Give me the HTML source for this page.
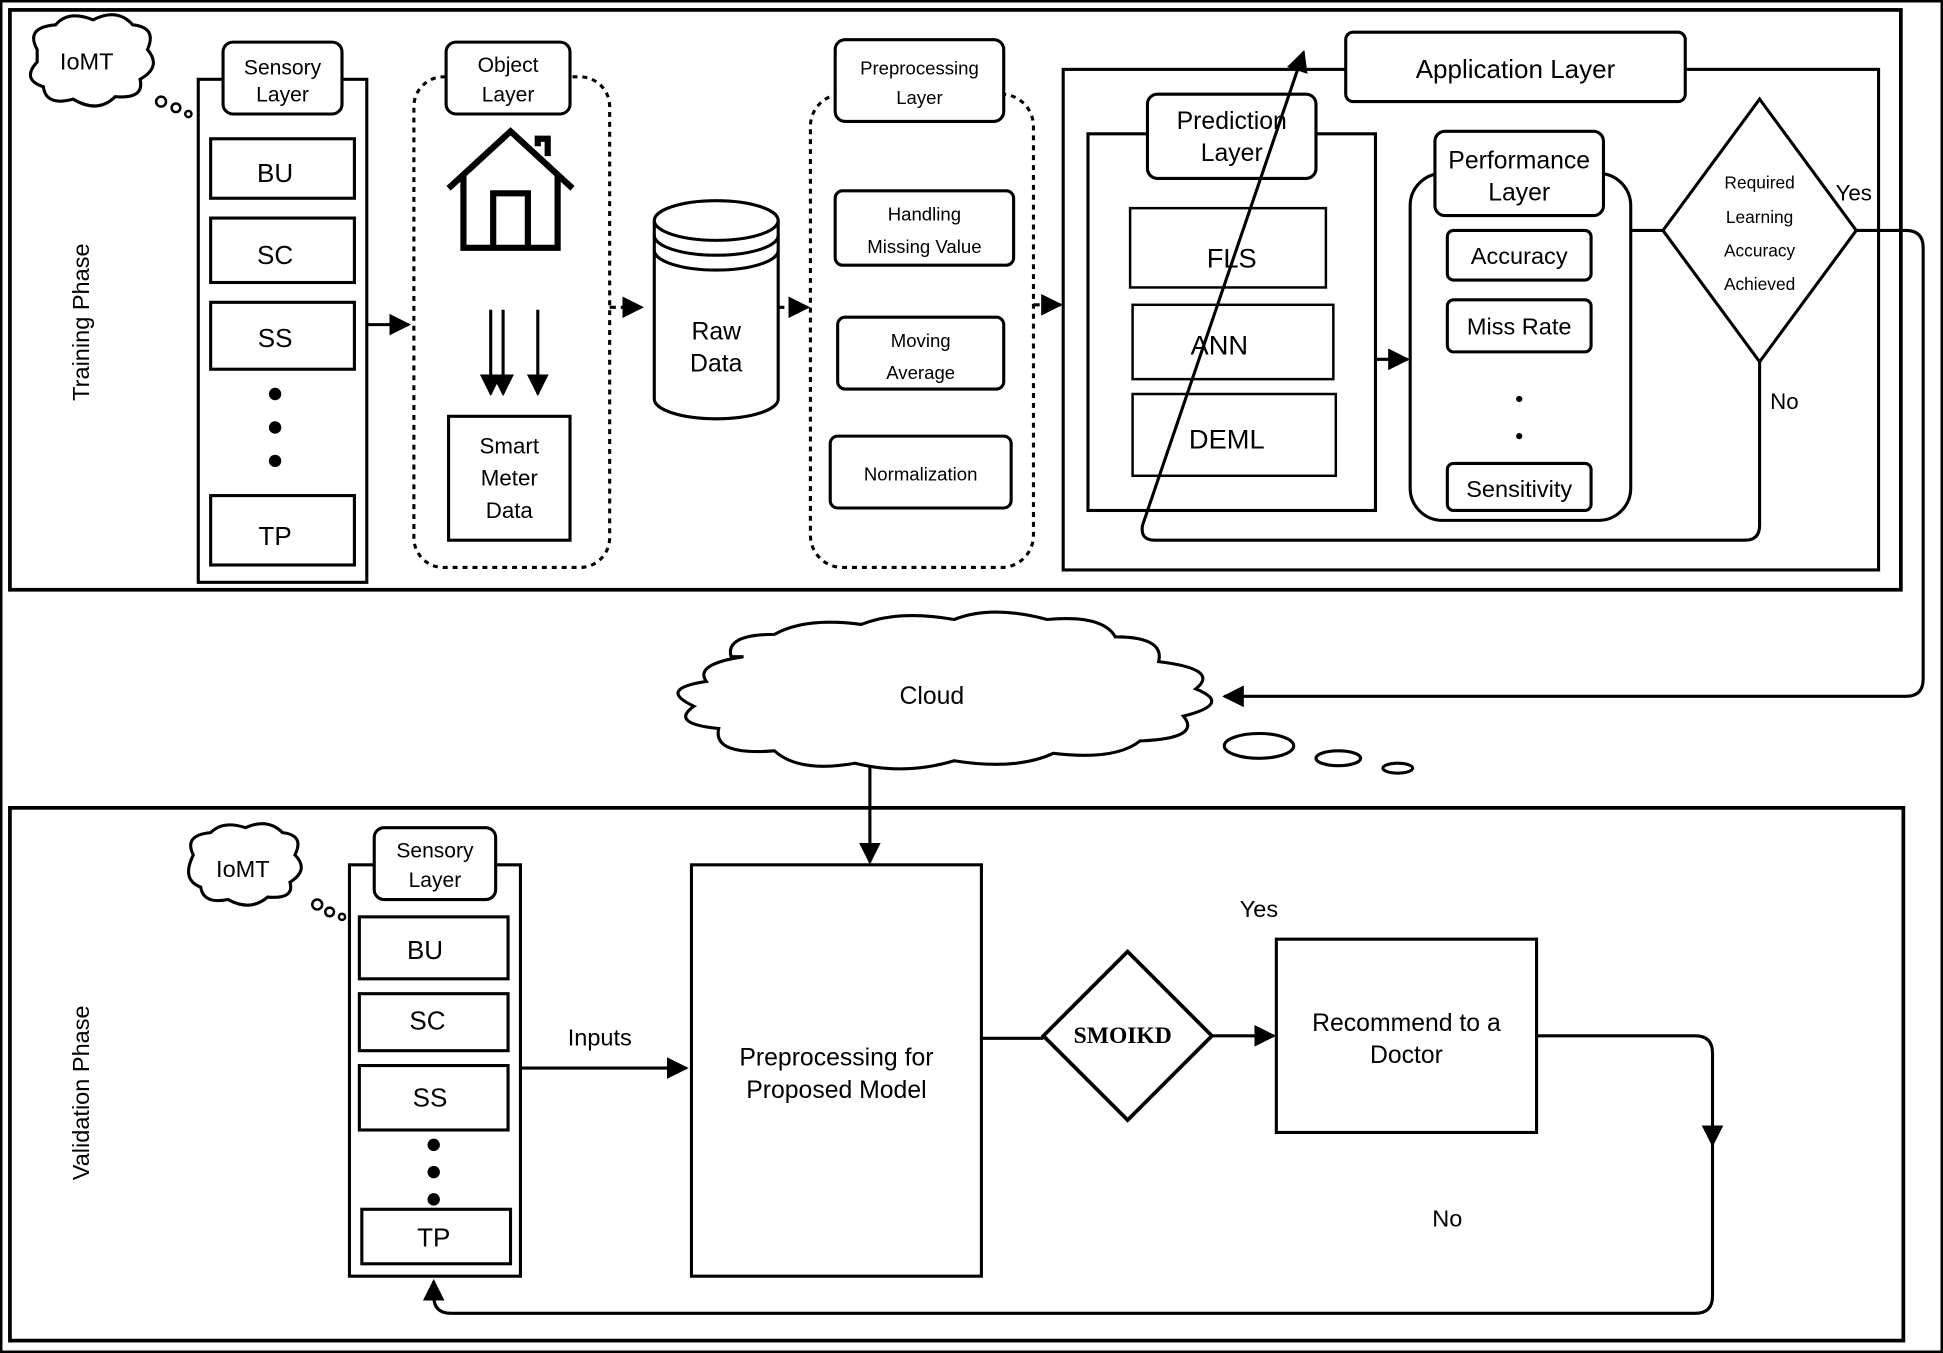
<!DOCTYPE html>
<html><head><meta charset="utf-8"><style>html,body{margin:0;padding:0;background:#fff}svg{display:block}</style></head>
<body>
<svg width="1943" height="1353" viewBox="0 0 1568 1092" preserveAspectRatio="none" xmlns="http://www.w3.org/2000/svg" font-family="Liberation Sans, sans-serif" fill="none" stroke="#000">
<defs>
<marker id="a" viewBox="0 0 10 10" refX="9" refY="5" markerWidth="7" markerHeight="7" orient="auto"><path d="M0,0L10,5L0,10z" fill="#000" stroke="none"/></marker>
</defs>
<rect x="1" y="1" width="1566" height="1090" stroke-width="2"/>
<rect x="8" y="8" width="1526" height="468" stroke-width="3"/>
<rect x="8" y="652" width="1528" height="430" stroke-width="3"/>
<g fill="#000" stroke="none" font-size="19">
<text transform="translate(72,260) rotate(-90)" text-anchor="middle">Training Phase</text>
<text transform="translate(72,882) rotate(-90)" text-anchor="middle">Validation Phase</text>
</g>
<!-- IoMT cloud top -->
<path d="M30,40 q-10,-18 15,-20 q10,-12 30,-4 q20,-10 32,4 q20,2 12,20 q12,14 -6,24 q4,16 -20,14 q-14,14 -34,2 q-22,6 -24,-10 q-18,-6 -5,-20z" stroke-width="2.5"/>
<text x="70" y="56" font-size="19" fill="#000" stroke="none" text-anchor="middle">IoMT</text>
<circle cx="130" cy="82" r="4" stroke-width="2"/><circle cx="142" cy="87" r="3.5" stroke-width="2"/><circle cx="152" cy="92" r="2.5" stroke-width="2"/>
<!-- sensory top -->
<rect x="160" y="64" width="136" height="406" stroke-width="2.5"/>
<rect x="180" y="34" width="96" height="58" rx="8" fill="#fff" stroke-width="2.5"/>
<g stroke-width="2.5"><rect x="170" y="112" width="116" height="48"/><rect x="170" y="176" width="116" height="52"/><rect x="170" y="244" width="116" height="54"/><rect x="170" y="400" width="116" height="56"/></g>
<g fill="#000" stroke="none"><circle cx="222" cy="318" r="5"/><circle cx="222" cy="345" r="5"/><circle cx="222" cy="372" r="5"/></g>
<g fill="#000" stroke="none" font-size="21" text-anchor="middle">
<text x="228" y="60" font-size="17">Sensory</text><text x="228" y="82" font-size="17">Layer</text>
<text x="222" y="147">BU</text><text x="222" y="213">SC</text><text x="222" y="280">SS</text><text x="222" y="440">TP</text>
</g>
<line x1="296" y1="262" x2="330" y2="262" stroke-width="2.5" marker-end="url(#a)"/>
<!-- object layer -->
<rect x="334" y="62" width="158" height="396" rx="24" stroke-width="2.5" stroke-dasharray="4,4"/>
<rect x="360" y="34" width="100" height="58" rx="8" fill="#fff" stroke-width="2.5"/>
<text x="410" y="58" font-size="17" fill="#000" stroke="none" text-anchor="middle">Object</text>
<text x="410" y="82" font-size="17" fill="#000" stroke="none" text-anchor="middle">Layer</text>
<path d="M362,152 L412,106 L462,152 M374,142 V200 H450 V142 M398,200 V156 H426 V200 M434,118 V112 H442 V126" stroke-width="5"/>
<g stroke-width="2.5"><line x1="396" y1="250" x2="396" y2="318" marker-end="url(#a)"/><line x1="406" y1="250" x2="406" y2="318" marker-end="url(#a)"/><line x1="434" y1="250" x2="434" y2="318" marker-end="url(#a)"/></g>
<rect x="362" y="336" width="98" height="100" stroke-width="2.5"/>
<g fill="#000" stroke="none" font-size="18" text-anchor="middle"><text x="411" y="366">Smart</text><text x="411" y="392">Meter</text><text x="411" y="418">Data</text></g>
<line x1="492" y1="248" x2="518" y2="248" stroke-width="2.5" stroke-dasharray="5,4" marker-end="url(#a)"/>
<!-- raw data -->
<path d="M528,178 V322 A50,16 0 0 0 628,322 V178" stroke-width="2.5"/>
<ellipse cx="578" cy="178" rx="50" ry="16" stroke-width="2.5"/>
<path d="M528,190 A50,16 0 0 0 628,190 M528,202 A50,16 0 0 0 628,202" stroke-width="2.5"/>
<text x="578" y="274" font-size="20" fill="#000" stroke="none" text-anchor="middle">Raw</text>
<text x="578" y="300" font-size="20" fill="#000" stroke="none" text-anchor="middle">Data</text>
<line x1="628" y1="248" x2="652" y2="248" stroke-width="2.5" stroke-dasharray="5,4" marker-end="url(#a)"/>
<!-- preprocessing -->
<rect x="654" y="76" width="180" height="382" rx="26" stroke-width="2.5" stroke-dasharray="4,4"/>
<rect x="674" y="32" width="136" height="66" rx="8" fill="#fff" stroke-width="2.5"/>
<g stroke-width="2.5"><rect x="674" y="154" width="144" height="60" rx="6"/><rect x="676" y="256" width="134" height="58" rx="6"/><rect x="670" y="352" width="146" height="58" rx="6"/></g>
<g fill="#000" stroke="none" font-size="15" text-anchor="middle">
<text x="742" y="60">Preprocessing</text><text x="742" y="84">Layer</text>
<text x="746" y="178">Handling</text><text x="746" y="204">Missing Value</text>
<text x="743" y="280">Moving</text><text x="743" y="306">Average</text>
<text x="743" y="388">Normalization</text>
</g>
<line x1="834" y1="246" x2="856" y2="246" stroke-width="2.5" stroke-dasharray="5,4" marker-end="url(#a)"/>
<!-- application -->
<rect x="858" y="56" width="658" height="404" stroke-width="2.5"/>
<rect x="1086" y="26" width="274" height="56" rx="6" fill="#fff" stroke-width="2.5"/>
<text x="1223" y="63" font-size="21" fill="#000" stroke="none" text-anchor="middle">Application Layer</text>
<rect x="878" y="108" width="232" height="304" stroke-width="2.5"/>
<rect x="926" y="76" width="136" height="68" rx="8" fill="#fff" stroke-width="2.5"/>
<g fill="#000" stroke="none" font-size="20" text-anchor="middle"><text x="994" y="104">Prediction</text><text x="994" y="130">Layer</text></g>
<g stroke-width="2"><rect x="912" y="168" width="158" height="64"/><rect x="914" y="246" width="162" height="60"/><rect x="914" y="318" width="164" height="66"/></g>
<g fill="#000" stroke="none" font-size="22" text-anchor="middle"><text x="994" y="216">FLS</text><text x="984" y="286">ANN</text><text x="990" y="362">DEML</text></g>
<line x1="1110" y1="290" x2="1136" y2="290" stroke-width="2.5" marker-end="url(#a)"/>
<rect x="1138" y="140" width="178" height="280" rx="26" stroke-width="2.5"/>
<rect x="1158" y="106" width="136" height="68" rx="8" fill="#fff" stroke-width="2.5"/>
<g fill="#000" stroke="none" font-size="20" text-anchor="middle"><text x="1226" y="136">Performance</text><text x="1226" y="162">Layer</text></g>
<g stroke-width="2.5"><rect x="1168" y="186" width="116" height="40" rx="5"/><rect x="1168" y="242" width="116" height="42" rx="5"/><rect x="1168" y="374" width="116" height="38" rx="5"/></g>
<g fill="#000" stroke="none" font-size="19" text-anchor="middle"><text x="1226" y="213">Accuracy</text><text x="1226" y="270">Miss Rate</text><text x="1226" y="401">Sensitivity</text></g>
<g fill="#000" stroke="none"><circle cx="1226" cy="322" r="2.5"/><circle cx="1226" cy="352" r="2.5"/></g>
<line x1="1316" y1="186" x2="1342" y2="186" stroke-width="2.5"/>
<polygon points="1420,80 1498,186 1420,292 1342,186" stroke-width="2.5"/>
<g fill="#000" stroke="none" font-size="14" text-anchor="middle"><text x="1420" y="152">Required</text><text x="1420" y="180">Learning</text><text x="1420" y="207">Accuracy</text><text x="1420" y="234">Achieved</text></g>
<text x="1496" y="162" font-size="18" fill="#000" stroke="none" text-anchor="middle">Yes</text>
<text x="1440" y="330" font-size="18" fill="#000" stroke="none" text-anchor="middle">No</text>
<path d="M1498,186 H1538 Q1552,186 1552,200 V548 Q1552,562 1538,562 H988" stroke-width="2.5" marker-end="url(#a)"/>
<path d="M1420,292 V424 Q1420,436 1408,436 H932 Q920,436 922,424 L1052,42" stroke-width="2.5" marker-end="url(#a)"/>
<!-- cloud -->
<path d="M590,530 q-5,-18 35,-18 q25,-14 70,-8 q30,-12 75,-4 q30,-12 75,0 q45,-4 55,14 q40,0 35,20 q50,6 30,22 q30,12 -10,22 q15,18 -35,20 q-20,16 -70,10 q-30,14 -80,6 q-40,12 -80,2 q-45,8 -65,-10 q-50,4 -45,-18 q-40,-4 -20,-18 q-30,-14 10,-20 q-10,-14 30,-20z" stroke-width="2.5" fill="#fff"/>
<text x="752" y="568" font-size="20" fill="#000" stroke="none" text-anchor="middle">Cloud</text>
<ellipse cx="1016" cy="602" rx="28" ry="10" stroke-width="2.5"/><ellipse cx="1080" cy="612" rx="18" ry="6" stroke-width="2.5"/><ellipse cx="1128" cy="620" rx="12" ry="4" stroke-width="2.5"/>
<line x1="702" y1="618" x2="702" y2="696" stroke-width="2.5" marker-end="url(#a)"/>
<!-- validation -->
<path d="M156,690 q-8,-16 14,-18 q10,-10 28,-4 q18,-8 30,4 q18,2 10,18 q12,12 -4,22 q4,14 -18,12 q-14,12 -32,2 q-20,4 -22,-10 q-16,-6 -6,-26z" stroke-width="2.5"/>
<text x="196" y="708" font-size="19" fill="#000" stroke="none" text-anchor="middle">IoMT</text>
<circle cx="256" cy="730" r="4" stroke-width="2"/><circle cx="266" cy="736" r="3.5" stroke-width="2"/><circle cx="276" cy="740" r="2.5" stroke-width="2"/>
<rect x="282" y="698" width="138" height="332" stroke-width="2.5"/>
<rect x="302" y="668" width="98" height="58" rx="8" fill="#fff" stroke-width="2.5"/>
<g stroke-width="2.5"><rect x="290" y="740" width="120" height="50"/><rect x="290" y="802" width="120" height="46"/><rect x="290" y="860" width="120" height="52"/><rect x="292" y="976" width="120" height="44"/></g>
<g fill="#000" stroke="none"><circle cx="350" cy="924" r="5"/><circle cx="350" cy="946" r="5"/><circle cx="350" cy="968" r="5"/></g>
<g fill="#000" stroke="none" font-size="21" text-anchor="middle">
<text x="351" y="692" font-size="17">Sensory</text><text x="351" y="716" font-size="17">Layer</text>
<text x="343" y="774">BU</text><text x="345" y="831">SC</text><text x="347" y="893">SS</text><text x="350" y="1006">TP</text>
</g>
<line x1="420" y1="862" x2="554" y2="862" stroke-width="2.5" marker-end="url(#a)"/>
<text x="484" y="844" font-size="19" fill="#000" stroke="none" text-anchor="middle">Inputs</text>
<rect x="558" y="698" width="234" height="332" stroke-width="2.5"/>
<g fill="#000" stroke="none" font-size="20" text-anchor="middle"><text x="675" y="860">Preprocessing for</text><text x="675" y="886">Proposed Model</text></g>
<line x1="792" y1="838" x2="842" y2="838" stroke-width="2.5"/>
<polygon points="910,768 978,836 910,904 842,836" stroke-width="3"/>
<text x="906" y="842" font-size="19" font-weight="bold" font-family="Liberation Serif, serif" fill="#000" stroke="none" text-anchor="middle">SMOIKD</text>
<line x1="978" y1="836" x2="1028" y2="836" stroke-width="2.5" marker-end="url(#a)"/>
<text x="1016" y="740" font-size="19" fill="#000" stroke="none" text-anchor="middle">Yes</text>
<rect x="1030" y="758" width="210" height="156" stroke-width="2.5"/>
<g fill="#000" stroke="none" font-size="20" text-anchor="middle"><text x="1135" y="832">Recommend to a</text><text x="1135" y="858">Doctor</text></g>
<path d="M1240,836 H1368 Q1382,836 1382,850 V924" stroke-width="2.5" marker-end="url(#a)"/>
<path d="M1382,924 V1046 Q1382,1060 1368,1060 H364 Q350,1060 350,1046 V1034" stroke-width="2.5" marker-end="url(#a)"/>
<text x="1168" y="990" font-size="19" fill="#000" stroke="none" text-anchor="middle">No</text>
</svg>
</body></html>
